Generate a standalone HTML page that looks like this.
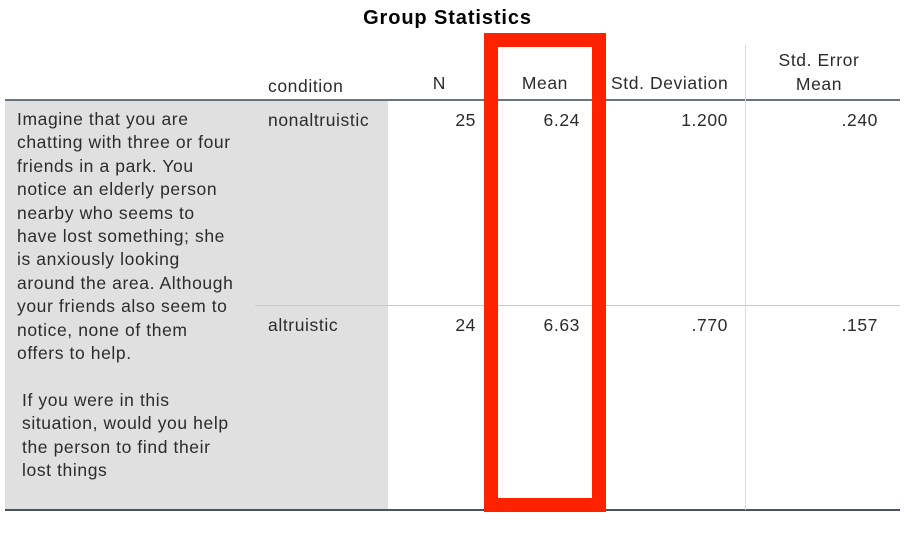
<!DOCTYPE html>
<html><head><meta charset="utf-8"><style>
body{margin:0;width:920px;height:533px;background:#fff;position:relative;overflow:hidden;font-family:"Liberation Sans",sans-serif;color:#2b2b2b}
div{position:absolute}
.t{font-size:17.5px;letter-spacing:0.6px;line-height:20px;white-space:nowrap}
.r{text-align:right}
</style></head><body>
<div style="left:0;width:895px;top:7px;text-align:center;font-weight:bold;font-size:20px;letter-spacing:0.9px;color:#000">Group Statistics</div>
<div style="left:5px;top:101px;width:383px;height:409px;background:#e0e0e0"></div>
<div style="left:5px;top:99px;width:895px;height:2px;background:#6a7480"></div>
<div style="left:5px;top:509px;width:895px;height:2px;background:#4a5460"></div>
<div style="left:255px;top:305px;width:645px;height:1px;background:#c8c8c8"></div>
<div style="left:745px;top:45px;width:1px;height:465px;background:#dcdcdc"></div>
<div class="t" style="left:268px;top:76px">condition</div>
<div class="t r" style="left:400px;width:46px;top:73px">N</div>
<div class="t r" style="left:500px;width:68px;top:73px">Mean</div>
<div class="t" style="left:611px;top:73px">Std. Deviation</div>
<div class="t" style="left:760px;width:118px;top:48px;text-align:center;line-height:24px">Std. Error<br>Mean</div>
<div class="t" style="left:17px;top:108px;line-height:23.4px">Imagine that you are<br>chatting with three or four<br>friends in a park. You<br>notice an elderly person<br>nearby who seems to<br>have lost something; she<br>is anxiously looking<br>around the area. Although<br>your friends also seem to<br>notice, none of them<br>offers to help.<br><br><span style="margin-left:5px">If you were in this</span><br><span style="margin-left:5px">situation, would you help</span><br><span style="margin-left:5px">the person to find their</span><br><span style="margin-left:5px">lost things</span></div>
<div class="t" style="left:268px;top:110px">nonaltruistic</div>
<div class="t r" style="left:400px;width:76px;top:110px">25</div>
<div class="t r" style="left:500px;width:80px;top:110px">6.24</div>
<div class="t r" style="left:620px;width:108px;top:110px">1.200</div>
<div class="t r" style="left:760px;width:118px;top:110px">.240</div>
<div class="t" style="left:268px;top:315px">altruistic</div>
<div class="t r" style="left:400px;width:76px;top:315px">24</div>
<div class="t r" style="left:500px;width:80px;top:315px">6.63</div>
<div class="t r" style="left:620px;width:108px;top:315px">.770</div>
<div class="t r" style="left:760px;width:118px;top:315px">.157</div>
<div style="left:484px;top:33px;width:94px;height:451px;border:14px solid #ff2200"></div>
</body></html>
